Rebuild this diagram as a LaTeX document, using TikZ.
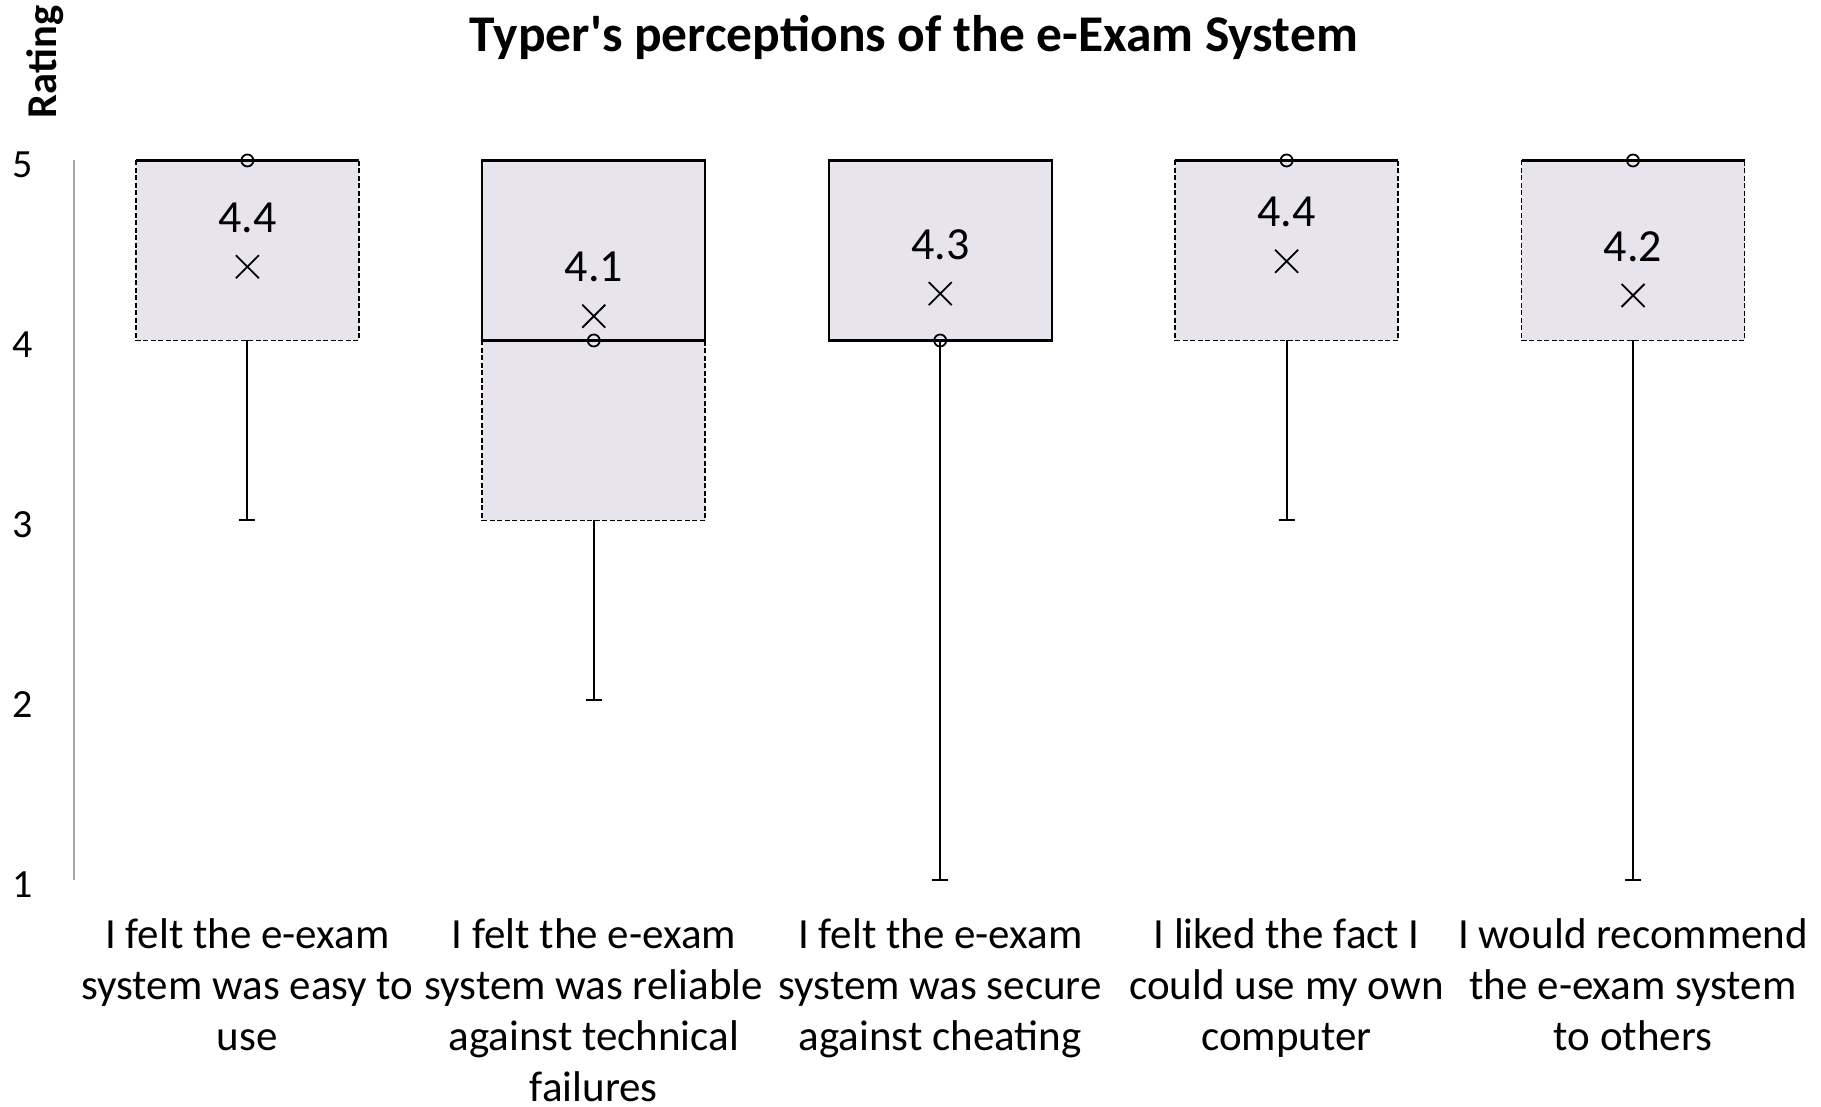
\documentclass[tikz,border=0pt]{standalone}
\usepackage{fontspec}
\setmainfont{Carlito}
\definecolor{boxfill}{HTML}{E8E4EE}
\definecolor{axisgray}{HTML}{A6A6A6}

\begin{document}
\begin{tikzpicture}[x=1pt,y=1pt,
	boxline/.style={line width=2.2pt},
	boxdash/.style={line width=1.9pt,dash pattern=on 5pt off 2.5pt},
	whisk/.style={line width=2pt},
	dotmark/.style={line width=1.8pt},
	valtext/.style={font=\fontsize{46}{55}\selectfont,inner sep=0pt,yshift=49pt},
	ticktext/.style={font=\fontsize{40}{48}\selectfont,inner sep=0pt,yshift=-4pt},
	cattext/.style={font=\fontsize{43}{51}\selectfont,align=center,anchor=north,inner sep=0pt}]
	\useasboundingbox (0,0) rectangle (1821,1107);

	\node[font=\fontsize{51.5}{60}\selectfont\bfseries,anchor=base,inner sep=0pt] (title) at (914,1055.3) {Typer\textquotesingle s perceptions of the e-Exam System};
	\node[font=\fontsize{42.5}{50}\selectfont\bfseries,rotate=90,inner sep=0pt] (rating) at (45,1045) {Rating};

	\begin{scope}[yshift=46.5pt,y=180pt]
		% axis and ticks
		\draw[axisgray,line width=1.6pt] (74,5) -- (74,1);
		\foreach \v in {1,...,5}
			\node[ticktext] (tick\v) at (23,\v) {\v};

		% box 1
		\fill[boxfill] (135.9,4) rectangle (358.9,5);
		\draw[boxdash] (135.9,5) -- (135.9,4) -- (358.9,4) -- (358.9,5);
		\draw[boxline] (135.9,5) -- (358.9,5);
		\draw[whisk] (247.4,4) -- (247.4,3) ++(-8pt,0) -- ++(16pt,0);
		\draw[dotmark] (247.4,5) circle (6pt);
		\draw[dotmark] (247.4,4.41) ++(-11.5pt,-11.5pt) -- ++(23pt,23pt) ++(-23pt,0) -- ++(23pt,-23pt);
		\node[valtext] (mean1) at (247.4,4.41) {4.4};

		% box 2
		\fill[boxfill] (482.3,3) rectangle (705.3,5);
		\draw[boxdash] (482.3,4) -- (482.3,3) -- (705.3,3) -- (705.3,4);
		\draw[boxline] (482.3,4) rectangle (705.3,5);
		\draw[whisk] (593.8,3) -- (593.8,2) ++(-8pt,0) -- ++(16pt,0);
		\draw[whisk] (593.8,5) ++(-8pt,0) -- ++(16pt,0);
		\draw[dotmark] (593.8,4) circle (6pt);
		\draw[dotmark] (593.8,4.135) ++(-11.5pt,-11.5pt) -- ++(23pt,23pt) ++(-23pt,0) -- ++(23pt,-23pt);
		\node[valtext] (mean2) at (593.8,4.135) {4.1};

		% box 3
		\fill[boxfill] (828.7,4) rectangle (1051.7,5);
		\draw[boxline] (828.7,4) rectangle (1051.7,5);
		\draw[whisk] (940.2,4) -- (940.2,1) ++(-8pt,0) -- ++(16pt,0);
		\draw[whisk] (940.2,5) ++(-8pt,0) -- ++(16pt,0);
		\draw[dotmark] (940.2,4) circle (6pt);
		\draw[dotmark] (940.2,4.26) ++(-11.5pt,-11.5pt) -- ++(23pt,23pt) ++(-23pt,0) -- ++(23pt,-23pt);
		\node[valtext] (mean3) at (940.2,4.26) {4.3};

		% box 4
		\fill[boxfill] (1175.1,4) rectangle (1398.1,5);
		\draw[boxdash] (1175.1,5) -- (1175.1,4) -- (1398.1,4) -- (1398.1,5);
		\draw[boxline] (1175.1,5) -- (1398.1,5);
		\draw[whisk] (1286.6,4) -- (1286.6,3) ++(-8pt,0) -- ++(16pt,0);
		\draw[dotmark] (1286.6,5) circle (6pt);
		\draw[dotmark] (1286.6,4.44) ++(-11.5pt,-11.5pt) -- ++(23pt,23pt) ++(-23pt,0) -- ++(23pt,-23pt);
		\node[valtext] (mean4) at (1286.6,4.44) {4.4};

		% box 5
		\fill[boxfill] (1521.5,4) rectangle (1744.5,5);
		\draw[boxdash] (1521.5,5) -- (1521.5,4) -- (1744.5,4) -- (1744.5,5);
		\draw[boxline] (1521.5,5) -- (1744.5,5);
		\draw[whisk] (1633,4) -- (1633,1) ++(-8pt,0) -- ++(16pt,0);
		\draw[dotmark] (1633,5) circle (6pt);
		\draw[dotmark] (1633,4.25) ++(-11.5pt,-11.5pt) -- ++(23pt,23pt) ++(-23pt,0) -- ++(23pt,-23pt);
		\node[valtext] (mean5) at (1633,4.25) {4.2};
	\end{scope}

	% category labels
	\node[cattext] (cat1) at (247.4,189) {I felt the e-exam\\system was easy to\\use};
	\node[cattext] (cat2) at (593.8,189) {I felt the e-exam\\system was reliable\\against technical\\failures};
	\node[cattext] (cat3) at (940.2,189) {I felt the e-exam\\system was secure\\against cheating};
	\node[cattext] (cat4) at (1286.6,189) {I liked the fact I\\could use my own\\computer};
	\node[cattext] (cat5) at (1633,189) {I would recommend\\the e-exam system\\to others};
\end{tikzpicture}
\end{document}
